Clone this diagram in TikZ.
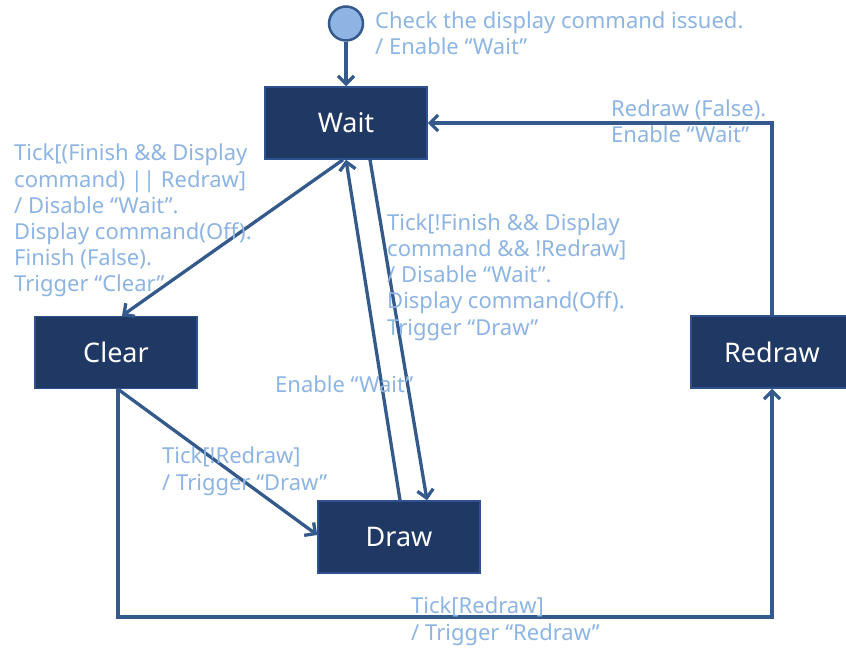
\documentclass[tikz,border=0pt]{standalone}
\usepackage{fontspec}
\setmainfont{Noto Sans}
\usetikzlibrary{arrows.meta}
\definecolor{navy}{RGB}{31,56,100}
\definecolor{navyedge}{RGB}{47,82,143}
\definecolor{wire}{RGB}{52,90,140}
\definecolor{notecol}{RGB}{141,180,226}
\begin{document}
\begin{tikzpicture}[x=1pt,y=-1pt,
  state/.style={draw=navyedge, line width=1.5pt, fill=navy, text=white,
    minimum width=162pt, minimum height=72pt, inner sep=0pt,
    font=\fontsize{27}{31}\selectfont},
  startdot/.style={circle, draw=wire, line width=2.5pt, fill=notecol,
    minimum size=34pt, inner sep=0pt},
  flow/.style={draw=wire, line width=3.3pt, line join=miter,
    -{Straight Barb[length=8pt,width=16pt]}},
  note/.style={text=notecol, font=\fontsize{22}{26.2}\selectfont,
    align=left, anchor=base west, inner sep=0pt}]

% canvas
\useasboundingbox (0,0) rectangle (846,652);
\clip (0,0) rectangle (846,652);

% states
\node[startdot] (init) at (346,23.5) {};
\node[state] (wait) at (346,123) {Wait};
\node[state] (clear) at (116,352.5) {Clear};
\node[state] (draw) at (399,537) {Draw};
\node[state] (redraw) at (772,352) {Redraw};

% corner points of the routed transitions
\coordinate (lowcorner) at (772,617);
\coordinate (highcorner) at (772,123);

% transitions
\draw[flow] (init) -- (wait);
\draw[flow] ([xshift=-3pt]wait.south) -- ([xshift=6pt]clear.north);
\draw[flow] ([xshift=24pt]wait.south) -- ([xshift=28pt]draw.north);
\draw[flow] ([xshift=1pt]draw.north) -- (wait.south);
\draw[flow] ([xshift=2pt]clear.south) -- ([yshift=2pt]draw.west);
\draw[flow] ([xshift=2pt]clear.south) |- (lowcorner) -- (redraw.south);
\draw[flow] (redraw.north) -- (highcorner) -- (wait.east);

% transition labels (anchored at the baseline of their last line)
\node[note] (n-init) at (375,55) {Check the display command issued.\\/ Enable “Wait”};
\node[note] (n-wc) at (14,292) {Tick[(Finish \&\& Display\\command) || Redraw]\\/ Disable “Wait”.\\Display command(Off).\\Finish (False).\\Trigger “Clear”};
\node[note] (n-wd) at (387,335) {Tick[!Finish \&\& Display\\command \&\& !Redraw]\\/ Disable “Wait”.\\Display command(Off).\\Trigger “Draw”};
\node[note] (n-dw) at (275,392) {Enable “Wait”};
\node[note] (n-cd) at (162,490) {Tick[!Redraw]\\/ Trigger “Draw”};
\node[note] (n-cr) at (411,640) {Tick[Redraw]\\/ Trigger “Redraw”};
\node[note] (n-rw) at (611,143) {Redraw (False).\\Enable “Wait”};
\end{tikzpicture}
\end{document}
